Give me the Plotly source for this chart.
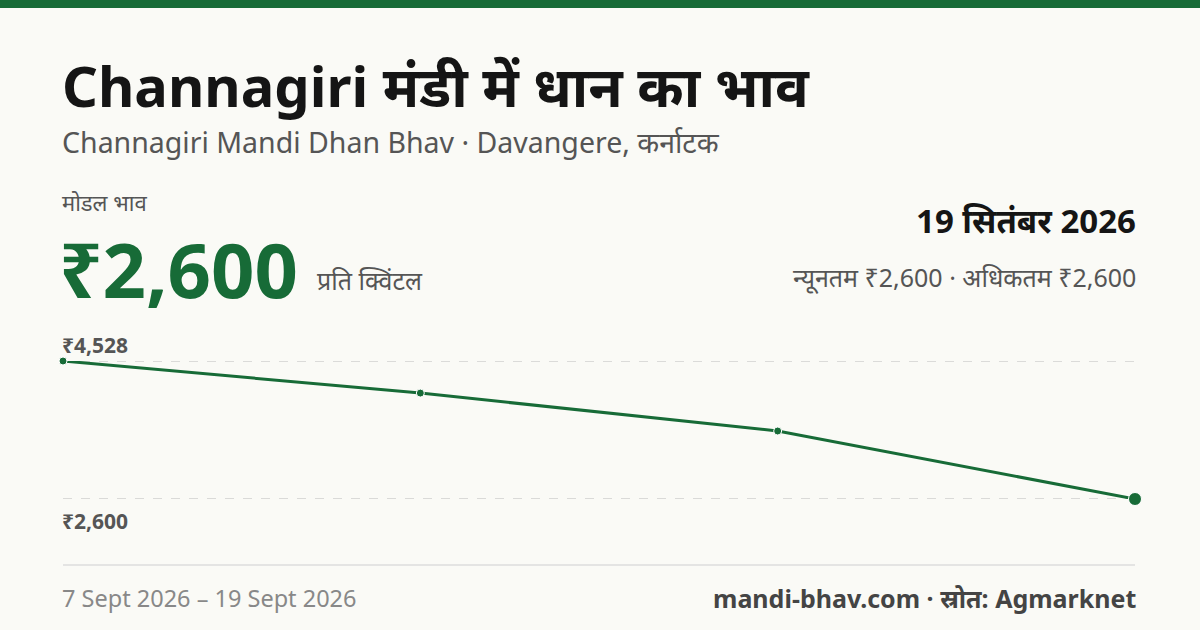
import plotly.graph_objects as go

dates = ["7 Sept", "11 Sept", "15 Sept", "19 Sept"]
prices = [4528, 4080, 3550, 2600]
tick_max_label = "₹4,528"
tick_min_label = "₹2,600"

W, H = 1200, 630
GREEN = "#176b37"
F = "Noto Sans, Noto Sans Devanagari, sans-serif"

def px(x): return x / W
def py(y): return 1 - y / H

fig = go.Figure()
xs = list(range(len(prices)))
fig.add_trace(go.Scatter(x=xs, y=prices, mode="lines+markers",
    line=dict(color=GREEN, width=3),
    marker=dict(color=GREEN, size=[8, 8, 8, 13], opacity=1), cliponaxis=False,
    hoverinfo="skip"))

ymin, ymax = min(prices), max(prices)
fig.update_layout(
    width=W, height=H, margin=dict(l=0, r=0, t=0, b=0),
    paper_bgcolor="#fafaf6", plot_bgcolor="rgba(0,0,0,0)", showlegend=False,
    xaxis=dict(domain=[px(63), px(1135)], range=[0, 3], visible=False, fixedrange=True),
    yaxis=dict(domain=[py(499), py(361)], range=[ymin, ymax], visible=False),
)
shapes = [
    dict(type="rect", xref="paper", yref="paper", x0=0, x1=1, y0=py(8), y1=1,
         fillcolor=GREEN, line_width=0),
    dict(type="line", xref="paper", yref="paper", x0=px(63), x1=px(1135), y0=py(565), y1=py(565),
         line=dict(color="#dddddd", width=1.5)),
]
for v in (ymax, ymin):
    shapes.append(dict(type="line", xref="paper", yref="y", x0=px(63), x1=px(1135), y0=v, y1=v,
                       line=dict(color="#bbbbbb", width=1, dash="dash"), layer="below"))
fig.update_layout(shapes=shapes)

def ann(x, y, text, size, color, anchor="left", bold=False):
    if bold: text = f"<b>{text}</b>"
    fig.add_annotation(x=px(x), y=py(y), xref="paper", yref="paper", text=text,
        showarrow=False, xanchor=anchor, yanchor="middle", borderpad=0,
        font=dict(family=F, size=size, color=color))

ann(61, 85, "Channagiri मंडी में धान का भाव", 56, "#151515", bold=True)
ann(61, 142, "Channagiri Mandi Dhan Bhav · Davangere, कर्नाटक", 28.5, "#555555")
ann(61, 202, "मोडल भाव", 22, "#555555")
ann(58, 268, "₹2,600", 76, GREEN, bold=True)
ann(316, 280, "प्रति क्विंटल", 25, "#555555")
ann(1137, 220, "19 सितंबर 2026", 33, "#151515", anchor="right", bold=True)
ann(1137, 277, "न्यूनतम ₹2,600 · अधिकतम ₹2,600", 25, "#555555", anchor="right")
ann(61, 345, tick_max_label, 21, "#555555", bold=True)
ann(61, 521, tick_min_label, 21, "#555555", bold=True)
ann(61, 598, f"{dates[0]} 2026 – {dates[-1]} 2026", 23.5, "#888888")
ann(1137, 598, "mandi-bhav.com · स्रोत: Agmarknet", 25, "#444444", anchor="right", bold=True)

fig.write_html("out.html", config={"displayModeBar": False},
               post_script="document.body.style.margin='0';document.body.style.overflow='hidden';")
